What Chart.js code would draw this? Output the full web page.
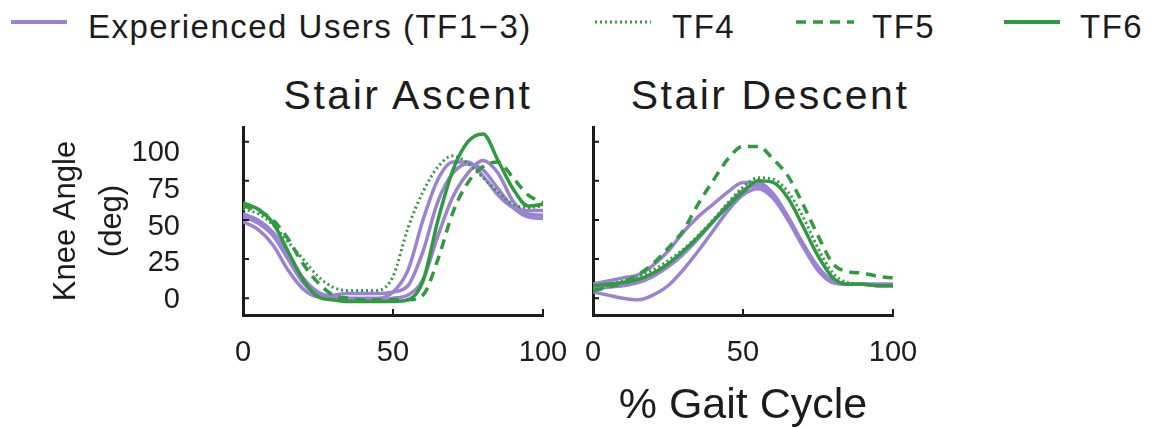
<!DOCTYPE html>
<html>
<head>
<meta charset="utf-8">
<script src="https://cdn.jsdelivr.net/npm/chart.js@4.4.0/dist/chart.umd.min.js"></script>
<style>
  html, body { margin: 0; padding: 0; background: #fff; }
  body { width: 1156px; height: 428px; position: relative; overflow: hidden;
         font-family: "Liberation Sans", Arial, sans-serif; color: #1c1c1c; }
  canvas { position: absolute; top: 0; }
  .key { position: absolute; top: 12px; }
  .lbl { position: absolute; top: 10px; font-size: 33px; line-height: 33px; letter-spacing: 1.5px; white-space: nowrap; }
  .ttl { position: absolute; top: 75px; width: 400px; text-align: center; font-size: 41px; line-height: 41px; letter-spacing: 2.5px; }
</style>
</head>
<body>

<svg class="key" style="left:11px" width="56" height="20"><line x1="0" y1="10" x2="56" y2="10" stroke="#9c82d2" stroke-width="4"/></svg>
<div class="lbl" style="left:88px">Experienced Users (TF1−3)</div>
<svg class="key" style="left:595px" width="56" height="20"><line x1="0" y1="10" x2="56" y2="10" stroke="#2f9a40" stroke-width="3" stroke-dasharray="2 3"/></svg>
<div class="lbl" style="left:672px">TF4</div>
<svg class="key" style="left:796px" width="58" height="20"><line x1="0" y1="10" x2="58" y2="10" stroke="#2f9a40" stroke-width="3.5" stroke-dasharray="10 7"/></svg>
<div class="lbl" style="left:872px">TF5</div>
<svg class="key" style="left:1004px" width="56" height="20"><line x1="0" y1="10" x2="56" y2="10" stroke="#2f9a40" stroke-width="4"/></svg>
<div class="lbl" style="left:1080px">TF6</div>

<div class="ttl" style="left:208px">Stair Ascent</div>
<div class="ttl" style="left:570px">Stair Descent</div>

<canvas id="ascent" width="575" height="428" style="left:0"></canvas>
<canvas id="descent" width="581" height="428" style="left:575px"></canvas>

<script>
// % gait cycle sample points
const gaitPct = [0, 5, 10, 15, 20, 25, 30, 35, 40, 45, 50, 55, 60, 65, 70, 75, 80, 85, 90, 95, 100];
const xTicks = [0, 50, 100];
const yTicks = [0, 25, 50, 75, 100];

// stair ascent knee angle (deg)
const ascTF1 = [54, 50, 42, 28, 13, 4, 1, 0, 0, 0, 4, 18, 50, 76, 87, 87, 78, 66, 58, 56, 56];
const ascTF2 = [52, 48, 40, 25, 10, 2, 0, -1, -1, -1, 0, 2, 12, 40, 65, 80, 88, 80, 62, 54, 53];
const ascTF3 = [49, 44, 34, 18, 6, 1, 2, 3, 3, 3, 4, 8, 30, 62, 80, 86, 82, 70, 58, 52, 51];
const ascTF4 = [57, 54, 47, 36, 25, 14, 7, 5, 5, 5, 14, 45, 68, 84, 91, 86, 77, 68, 60, 58, 59];
const ascTF5 = [59, 56, 50, 38, 22, 10, 2, 0, -1, -1, -1, -1, 2, 25, 55, 74, 84, 87, 77, 66, 61];
const ascTF6 = [61, 57, 48, 30, 12, 1, -1, -2, -2, -2, -2, -1, 11, 50, 82, 100, 105, 88, 70, 59, 60];

// stair descent knee angle (deg)
const desTF1 = [9, 11, 13, 15, 21, 30, 42, 52, 60, 68, 74, 74, 67, 52, 34, 18, 10, 9, 9, 8, 8];
const desTF2 = [4, 2, 0, -1, 2, 8, 18, 30, 43, 56, 66, 70, 64, 50, 33, 18, 10, 9, 9, 9, 9];
const desTF3 = [6, 7, 8, 10, 14, 20, 28, 38, 49, 60, 69, 72, 66, 52, 35, 20, 11, 9, 9, 9, 9];
const desTF4 = [4, 8, 11, 14, 18, 24, 31, 40, 50, 61, 71, 77, 76, 68, 52, 32, 16, 10, 9, 8, 8];
const desTF5 = [5, 7, 10, 15, 22, 32, 43, 60, 75, 89, 97, 97, 89, 78, 60, 40, 22, 17, 16, 14, 13];
const desTF6 = [8, 9, 10, 12, 16, 22, 30, 39, 49, 59, 68, 75, 74, 64, 46, 27, 13, 9, 9, 8, 8];

const PURPLE = '#9c82d2';
const GREEN = '#2f9a40';
const AXIS = '#1c1c1c';
const FONT = '"Liberation Sans", Arial, sans-serif';

function pts(arr) {
    return gaitPct.map((x, i) => ({ x: x, y: arr[i] }));
}

function series(arr, color, dash, width) {
    return {
        data: pts(arr),
        borderColor: color,
        borderWidth: width || 3.5,
        borderDash: dash || [],
        pointRadius: 0,
        fill: false,
        cubicInterpolationMode: 'monotone'
    };
}

// small tick marks pointing into the plot
const innerTicks = {
    id: 'innerTicks',
    afterDraw(chart) {
        const { ctx, chartArea } = chart;
        const x = chart.scales.x, y = chart.scales.y;
        ctx.save();
        ctx.strokeStyle = AXIS;
        ctx.lineWidth = 2;
        ctx.beginPath();
        x.ticks.forEach(t => {
            const px = x.getPixelForValue(t.value);
            ctx.moveTo(px, chartArea.bottom);
            ctx.lineTo(px, chartArea.bottom - 6);
        });
        y.ticks.forEach(t => {
            const py = y.getPixelForValue(t.value);
            ctx.moveTo(chartArea.left, py);
            ctx.lineTo(chartArea.left + 6, py);
        });
        ctx.stroke();
        ctx.restore();
    }
};

function xScale(withTitle) {
    return {
        type: 'linear',
        min: 0,
        max: 100,
        afterBuildTicks: s => { s.ticks = xTicks.map(v => ({ value: v })); },
        afterFit: s => { s.height = 113; },
        border: { color: AXIS, width: 3 },
        grid: { drawOnChartArea: false, drawTicks: true, tickLength: 18, tickColor: 'rgba(0,0,0,0)' },
        ticks: { padding: 3, color: AXIS, font: { family: FONT, size: 29 } },
        title: {
            display: withTitle,
            text: '% Gait Cycle',
            color: AXIS,
            font: { family: FONT, size: 43, lineHeight: 1 },
            padding: 0
        }
    };
}

function yScale(width) {
    return {
        type: 'linear',
        position: 'left',
        weight: 0,
        min: -10.7,
        max: 109.4,
        afterBuildTicks: s => { s.ticks = yTicks.map(v => ({ value: v })); },
        afterFit: s => { s.width = width; },
        border: { color: AXIS, width: 3 },
        grid: { display: false },
        ticks: { display: false }
    };
}

function baseOptions(padRight) {
    return {
        responsive: false,
        animation: false,
        devicePixelRatio: 1,
        layout: { padding: { top: 127, right: padRight, bottom: 0, left: 0 } },
        plugins: { legend: { display: false }, tooltip: { enabled: false }, title: { display: false } },
        scales: {}
    };
}

// left panel: stair ascent
const ascOpts = baseOptions(32);
ascOpts.scales.x = xScale(false);
ascOpts.scales.y = yScale(0);
ascOpts.scales.yLab = {
    type: 'linear',
    position: 'left',
    weight: 1,
    min: -10.2,
    max: 117.7,
    afterBuildTicks: s => { s.ticks = yTicks.map(v => ({ value: v })); },
    afterFit: s => { s.width = 243; },
    border: { display: false },
    grid: { display: false },
    ticks: { padding: 55, color: AXIS, font: { family: FONT, size: 29 } },
    title: {
        display: true,
        text: ['Knee Angle', '(deg)'],
        color: AXIS,
        font: { family: FONT, size: 31, lineHeight: 1.5 },
        padding: { top: 43, bottom: 0 }
    }
};

new Chart(document.getElementById('ascent'), {
    type: 'line',
    data: {
        datasets: [
            series(ascTF6, GREEN),
            series(ascTF5, GREEN, [10, 7]),
            series(ascTF4, GREEN, [2, 3], 3),
            series(ascTF1, PURPLE),
            series(ascTF2, PURPLE),
            series(ascTF3, PURPLE)
        ]
    },
    options: ascOpts,
    plugins: [innerTicks]
});

// right panel: stair descent
const desOpts = baseOptions(263);
desOpts.scales.x = xScale(true);
desOpts.scales.y = yScale(18);

new Chart(document.getElementById('descent'), {
    type: 'line',
    data: {
        datasets: [
            series(desTF6, GREEN),
            series(desTF5, GREEN, [10, 7]),
            series(desTF4, GREEN, [2, 3], 3),
            series(desTF1, PURPLE),
            series(desTF2, PURPLE),
            series(desTF3, PURPLE)
        ]
    },
    options: desOpts,
    plugins: [innerTicks]
});
</script>
</body>
</html>
